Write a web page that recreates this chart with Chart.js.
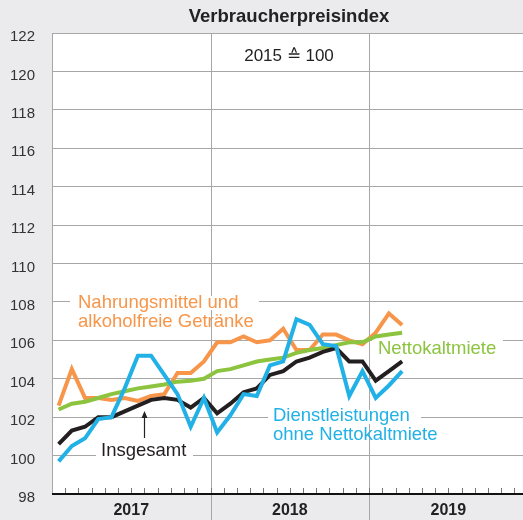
<!DOCTYPE html>
<html>
<head>
<meta charset="utf-8">
<script src="https://cdn.jsdelivr.net/npm/chart.js@4"></script>
<style>
  html, body { margin: 0; padding: 0; background: #ebebed; }
  #wrap { width: 523px; height: 520px; position: relative; }
</style>
</head>
<body>
<div id="wrap"><canvas id="vpi"></canvas></div>
<script>
// Verbraucherpreisindex, 2015 = 100, monthly Jan 2017 - Mar 2019
const years = ["2017", "2018", "2019"];
const yTicks = [98, 100, 102, 104, 106, 108, 110, 112, 114, 116, 118, 120, 122];

const insgesamt = [100.6, 101.3, 101.5, 102.0, 102.0, 102.3, 102.6, 102.9, 103.0, 102.9, 102.5, 103.0,
  102.2, 102.7, 103.3, 103.5, 104.2, 104.4, 104.9, 105.1, 105.4, 105.6, 104.9, 104.9,
  103.9, 104.4, 104.9];
const nahrung = [102.6, 104.5, 103.0, 103.0, 102.9, 103.0, 102.85, 103.1, 103.2, 104.3, 104.3, 104.9,
  105.9, 105.9, 106.2, 105.9, 106.0, 106.6, 105.5, 105.5, 106.3, 106.3, 106.0, 105.8,
  106.4, 107.4, 106.8];
const nettokaltmiete = [102.4, 102.7, 102.8, 103.0, 103.2, 103.35, 103.5, 103.6, 103.7, 103.85, 103.9, 104.0,
  104.4, 104.5, 104.7, 104.9, 105.0, 105.1, 105.35, 105.5, 105.6, 105.75, 105.9, 105.9,
  106.2, 106.3, 106.4];
const dienstleistungen = [99.7, 100.5, 100.9, 101.9, 102.0, 103.5, 105.2, 105.2, 104.2, 103.2, 101.5, 103.0,
  101.2, 102.1, 103.2, 103.1, 104.7, 104.9, 107.1, 106.8, 105.8, 105.7, 103.1, 104.4,
  103.0, 103.65, 104.4];

const FONT = "'Liberation Sans', Arial, Helvetica, sans-serif";
const C_ORANGE = "#f7964a";
const C_GREEN = "#8cc43f";
const C_BLUE = "#22b1e6";
const C_BLACK = "#231f20";
const C_GRID = "#a7a7a7";

// month i sits in the middle of its month slot
const toPoints = (arr) => arr.map((v, i) => ({ x: i + 0.5, y: v }));

const labels = [
  { lines: ["Nahrungsmittel und", "alkoholfreie Getränke"], color: C_ORANGE, x: 78, y: 303, box: [70, 259, 296, 310] },
  { lines: ["Nettokaltmiete"], color: C_GREEN, x: 378, y: 349, box: [372, 503, 336, 346] },
  { lines: ["Dienstleistungen", "ohne Nettokaltmiete"], color: C_BLUE, x: 273, y: 416, box: [268, 421, 410, 424] },
  { lines: ["Insgesamt"], color: C_BLACK, x: 101, y: 451, box: [96, 193, 444, 462] },
];

const frame = {
  id: "frame",
  beforeDraw(chart) {
    const { ctx, chartArea: a } = chart;
    ctx.save();
    ctx.fillStyle = "#ffffff";
    ctx.fillRect(a.left, a.top, a.right - a.left, a.bottom - a.top);
    ctx.restore();
  },
  beforeDatasetsDraw(chart) {
    const { ctx, chartArea: a, scales } = chart;
    const x = scales.x;
    ctx.save();
    // year separators run down through the label band
    ctx.strokeStyle = C_GRID;
    ctx.lineWidth = 1;
    [12, 24].forEach((m) => {
      const px = Math.round(x.getPixelForValue(m)) + 0.5;
      ctx.beginPath();
      ctx.moveTo(px, a.top);
      ctx.lineTo(px, chart.height);
      ctx.stroke();
    });
    // white boxes that cut the gridlines behind the series labels
    ctx.fillStyle = "#ffffff";
    labels.forEach((l) => {
      const [x0, x1, y0, y1] = l.box;
      ctx.fillRect(x0, y0, x1 - x0, y1 - y0);
    });
    ctx.restore();
  },
  afterDatasetsDraw(chart) {
    const { ctx, chartArea: a, scales } = chart;
    const x = scales.x;
    const y = scales.y;
    ctx.save();
    // month ticks on the base line
    ctx.strokeStyle = "#777";
    ctx.lineWidth = 1;
    for (let m = 1; m < 36; m++) {
      const px = Math.round(x.getPixelForValue(m)) + 0.5;
      if (px > a.right) break;
      ctx.beginPath();
      ctx.moveTo(px, a.bottom - 6);
      ctx.lineTo(px, a.bottom);
      ctx.stroke();
    }
    ctx.strokeStyle = "#111";
    ctx.lineWidth = 2;
    ctx.beginPath();
    ctx.moveTo(a.left, a.bottom);
    ctx.lineTo(a.right, a.bottom);
    ctx.stroke();

    // y labels, sitting slightly below their gridline
    ctx.fillStyle = "#333";
    ctx.font = "15px " + FONT;
    ctx.textAlign = "right";
    ctx.textBaseline = "middle";
    yTicks.forEach((v) => ctx.fillText(String(v), 35, y.getPixelForValue(v) + 4));

    // year labels
    ctx.fillStyle = "#222";
    ctx.font = "bold 16px " + FONT;
    ctx.textAlign = "center";
    years.forEach((yr, k) => {
      ctx.fillText(yr, x.getPixelForValue(k * 12 + 6), 511);
    });

    // title and base note
    ctx.font = "bold 18.5px " + FONT;
    ctx.fillText("Verbraucherpreisindex", 289, 17);
    ctx.font = "17px " + FONT;
    ctx.fillText("2015 \u2259 100", 289, 56);

    // series labels
    ctx.textAlign = "left";
    ctx.font = "18.5px " + FONT;
    labels.forEach((l) => {
      ctx.fillStyle = l.color;
      l.lines.forEach((t, j) => ctx.fillText(t, l.x, l.y + j * 19));
    });

    // arrow from "Insgesamt" up to its line
    ctx.strokeStyle = "#222";
    ctx.fillStyle = "#222";
    ctx.lineWidth = 1.2;
    ctx.beginPath();
    ctx.moveTo(144.5, 438);
    ctx.lineTo(144.5, 416);
    ctx.stroke();
    ctx.beginPath();
    ctx.moveTo(144.5, 411);
    ctx.lineTo(141.5, 418);
    ctx.lineTo(147.5, 418);
    ctx.closePath();
    ctx.fill();
    ctx.restore();
  },
};

const line = (data, color, order) => ({
  data: toPoints(data),
  borderColor: color,
  borderWidth: 4,
  pointRadius: 0,
  tension: 0,
  borderJoinStyle: "miter",
  order: order,
});

new Chart(document.getElementById("vpi"), {
  type: "line",
  data: {
    datasets: [
      line(nahrung, C_ORANGE, 4),
      line(nettokaltmiete, C_GREEN, 3),
      line(insgesamt, C_BLACK, 2),
      line(dienstleistungen, C_BLUE, 1),
    ],
  },
  options: {
    responsive: true,
    maintainAspectRatio: false,
    animation: false,
    layout: { padding: { top: 33, bottom: 26, left: 0, right: 0 } },
    plugins: { legend: { display: false }, tooltip: { enabled: false } },
    scales: {
      x: { type: "linear", min: 0, max: 35.65, display: false },
      y: {
        min: 98,
        max: 122,
        afterFit: (s) => { s.width = 52; },
        afterBuildTicks: (s) => { s.ticks = yTicks.map((v) => ({ value: v })); },
        border: { display: true, color: C_GRID, width: 1 },
        grid: { color: C_GRID, lineWidth: 1, drawTicks: false },
        ticks: { display: false },
      },
    },
  },
  plugins: [frame],
});
</script>
</body>
</html>
